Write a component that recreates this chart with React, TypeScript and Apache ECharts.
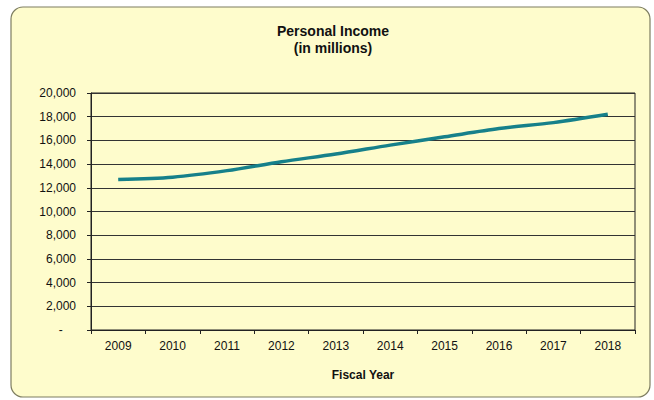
import React, { useEffect, useRef } from "react";
import * as echarts from "echarts";

const years = ["2009", "2010", "2011", "2012", "2013", "2014", "2015", "2016", "2017", "2018"];
const personalIncome = [12700, 12900, 13450, 14200, 14850, 15600, 16300, 17000, 17500, 18200];
const titleLines = ["Personal Income", "(in millions)"];
const xAxisTitle = "Fiscal Year";

export default function App() {
  const ref = useRef<HTMLDivElement>(null);
  useEffect(() => {
    if (!ref.current) return;
    const chart = echarts.init(ref.current, null, { renderer: "svg" });
    const font = "Liberation Sans, Arial, sans-serif";
    chart.setOption({
      animation: false,
      backgroundColor: "#ffffff",
      graphic: [
        {
          type: "rect",
          shape: { x: 11, y: 7, width: 639, height: 390, r: 12 },
          style: { fill: "#fefccc", stroke: "#7d7d60", lineWidth: 1.2 },
          z: -10,
        },
      ],
      title: {
        text: titleLines.join("\n"),
        left: 333,
        top: 22,
        padding: 0,
        textAlign: "center",
        textStyle: { fontFamily: font, fontSize: 14, fontWeight: "bold", color: "#111", lineHeight: 17 },
      },
      grid: {
        left: 91,
        right: 19,
        top: 93,
        bottom: 70,
        show: true,
        backgroundColor: "#fefccc",
        borderColor: "#222",
        borderWidth: 1,
      },
      xAxis: {
        type: "category",
        data: years,
        boundaryGap: true,
        name: xAxisTitle,
        nameLocation: "middle",
        nameGap: 39,
        nameTextStyle: { fontFamily: font, fontSize: 12, fontWeight: "bold", color: "#111" },
        axisLine: { show: true, lineStyle: { color: "#222", width: 1 } },
        axisTick: { show: true, alignWithLabel: false, length: 4, lineStyle: { color: "#222" } },
        axisLabel: { fontFamily: font, fontSize: 12, color: "#111", margin: 10 },
        splitLine: { show: false },
      },
      yAxis: {
        type: "value",
        min: 0,
        max: 20000,
        interval: 2000,
        axisLine: { show: true, lineStyle: { color: "#222", width: 1 } },
        axisTick: { show: true, length: 4, lineStyle: { color: "#222" } },
        axisLabel: {
          fontFamily: font,
          fontSize: 12,
          color: "#111",
          margin: 15,
          formatter: (v: number) => (v === 0 ? "-    " : v.toLocaleString("en-US")),
        },
        splitLine: { show: true, lineStyle: { color: "#333", width: 1 } },
      },
      series: [
        {
          type: "line",
          data: personalIncome,
          smooth: 0.3,
          showSymbol: false,
          symbol: "none",
          lineStyle: { color: "#16808a", width: 3.5 },
        },
      ],
    });
    return () => chart.dispose();
  }, []);
  return (
    <div
      ref={ref}
      style={{ position: "fixed", left: 0, top: 0, width: 654, height: 400 }}
    />
  );
}
